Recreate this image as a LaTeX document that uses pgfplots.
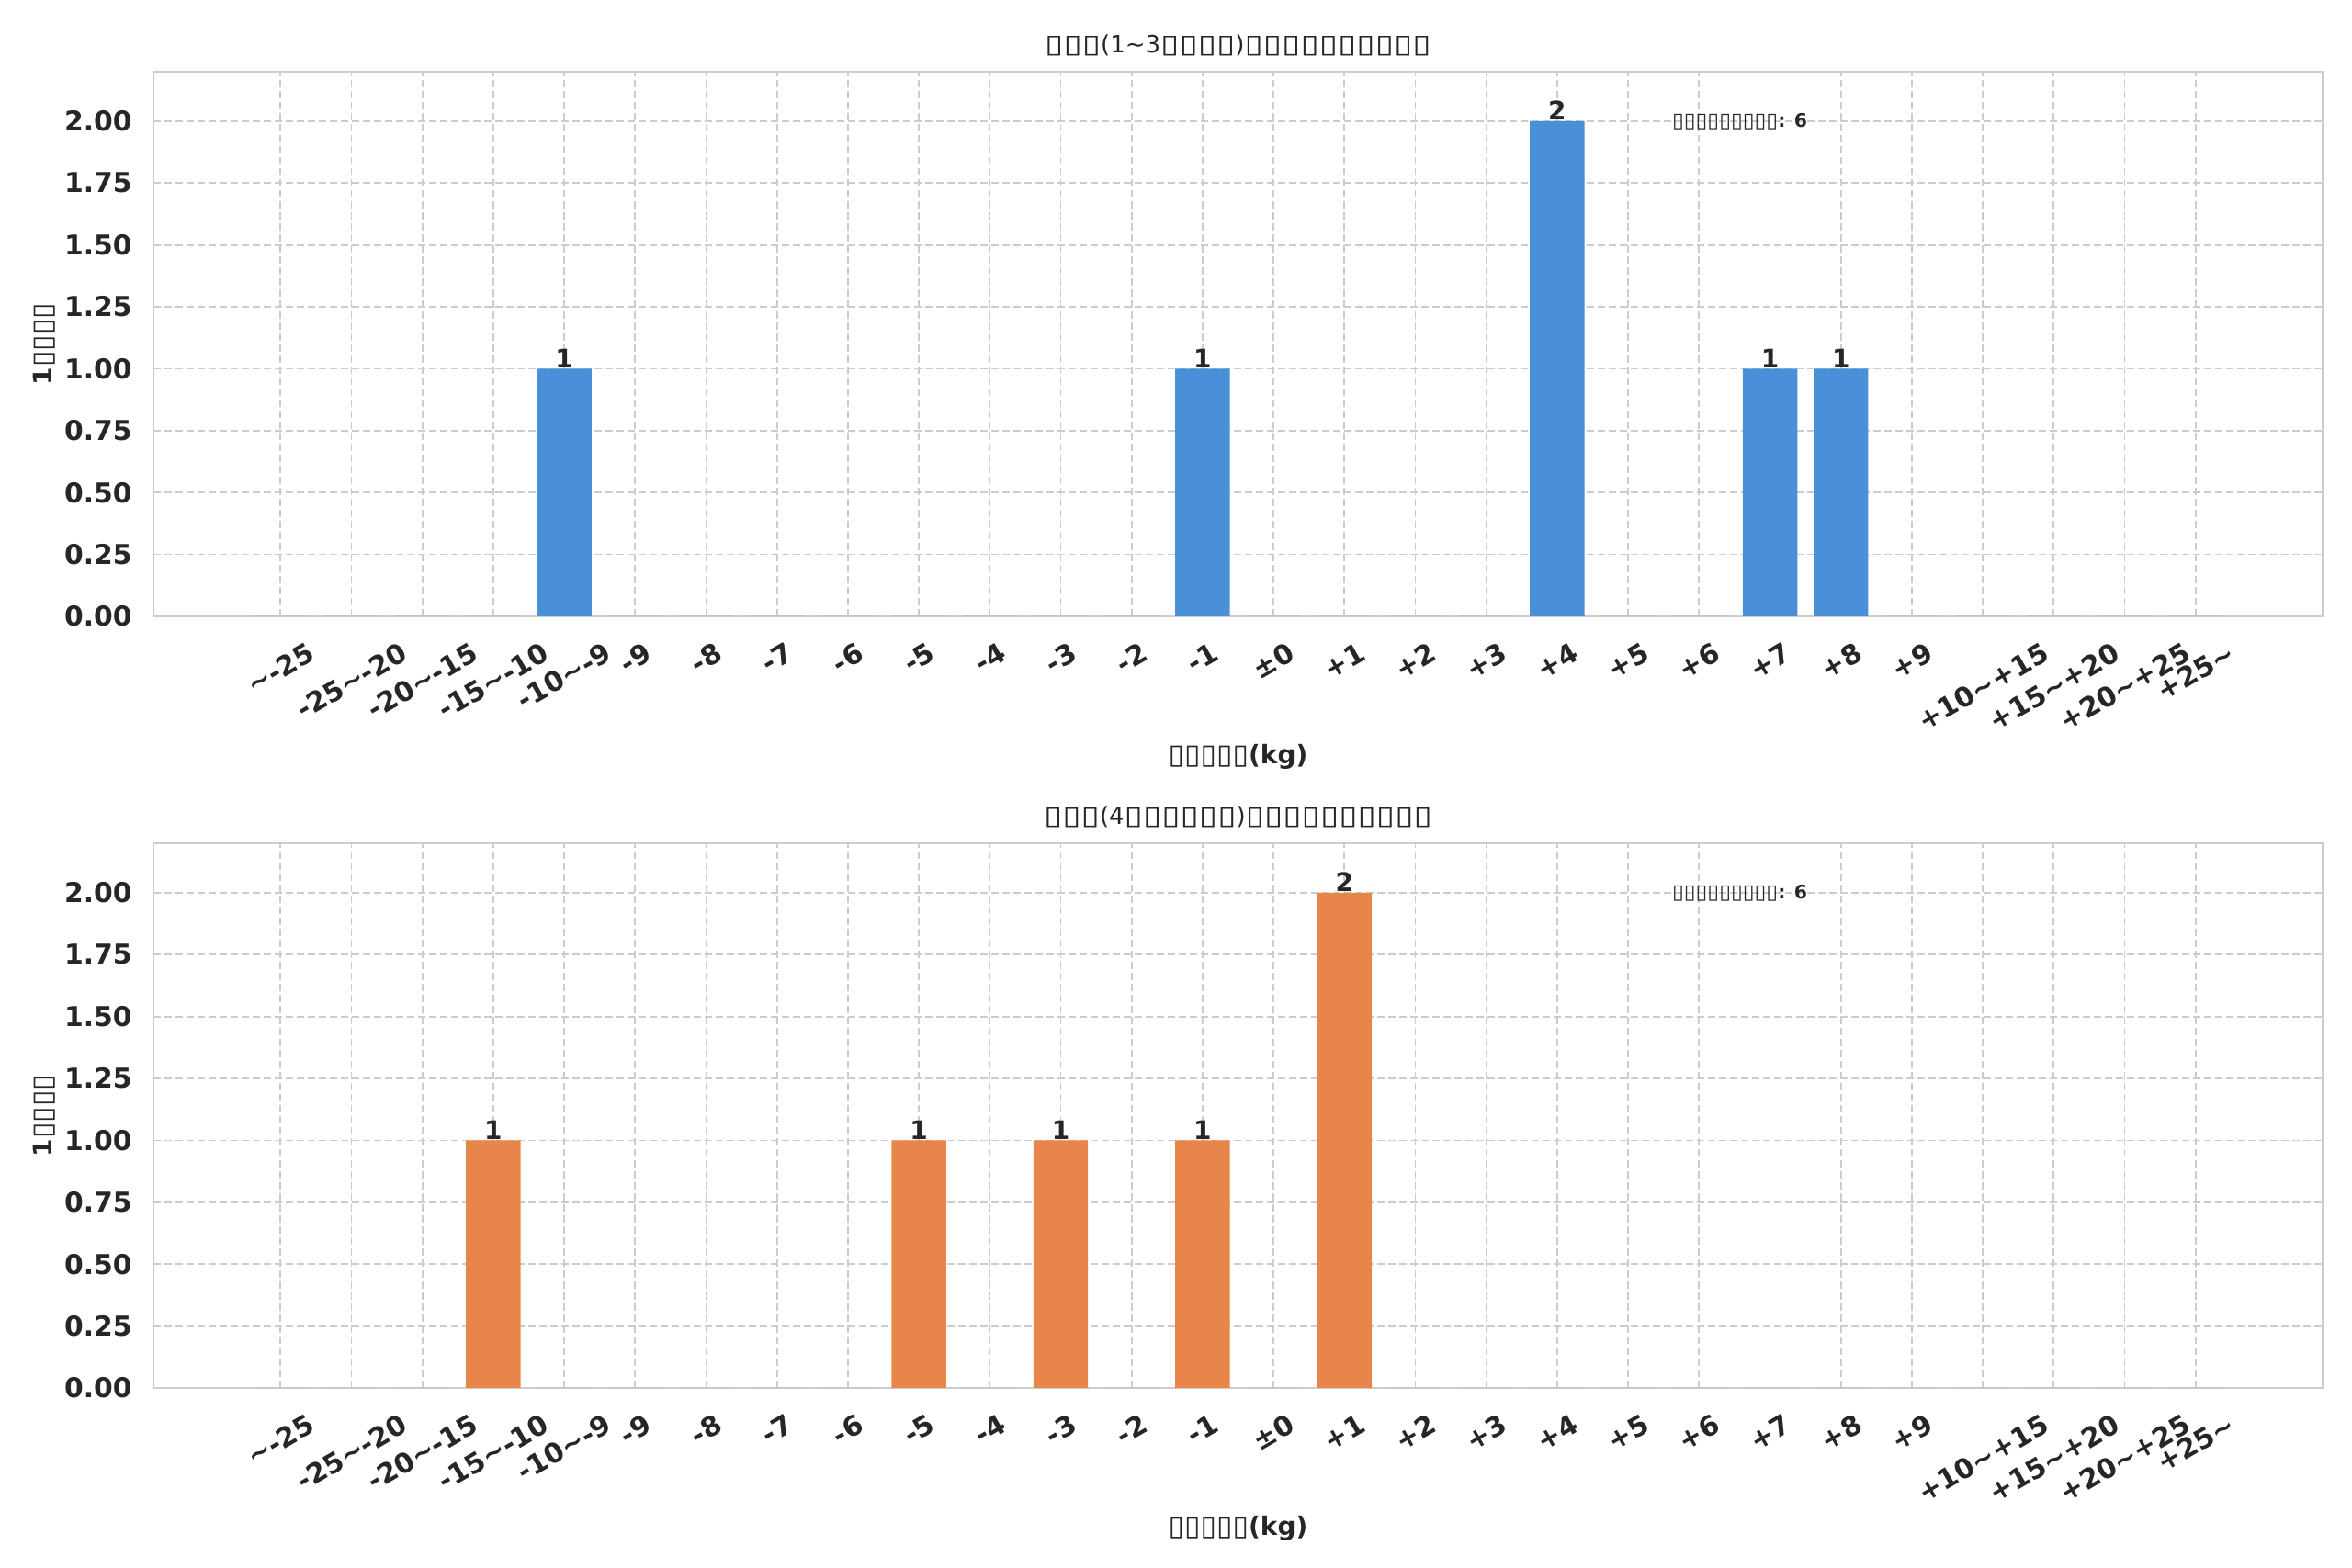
\documentclass[border=0pt]{standalone}
\usepackage{fontspec}
\setmainfont{DejaVu Sans}
\usepackage{graphicx}
\usepackage{pgfplots}
\pgfplotsset{compat=1.18}
\definecolor{txt}{HTML}{262626}
\definecolor{gridc}{HTML}{CCCCCC}
\definecolor{barblue}{HTML}{4A90D9}
\definecolor{barorange}{HTML}{E8854A}
\newcommand\T{\textasciitilde}
\newcommand\R[1]{\rotatebox{30}{#1}}
\newcommand\B{\scalebox{1.42}[1.08]{▯}}
\newcommand\Bb{\scalebox{1.14}[1.08]{▯}}
\pgfplotsset{
  panel/.style={
    width=1180.5pt, height=296.5pt, scale only axis,
    xmin=-1.79, xmax=28.79, ymin=0, ymax=2.2,
    ytick={0,0.25,0.5,0.75,1,1.25,1.5,1.75,2},
    xtick={0,...,27},
    xticklabels={\R{\T-25},\R{-25\T-20},\R{-20\T-15},\R{-15\T-10},\R{-10\T-9},\R{-9},\R{-8},\R{-7},\R{-6},\R{-5},\R{-4},\R{-3},\R{-2},\R{-1},\R{±0},\R{+1},\R{+2},\R{+3},\R{+4},\R{+5},\R{+6},\R{+7},\R{+8},\R{+9},\R{+10\T+15},\R{+15\T+20},\R{+20\T+25},\R{+25\T}},
    xmajorgrids, ymajorgrids,
    major grid style={draw=gridc, line width=0.9pt, dash pattern=on 4pt off 2pt},
    axis line style={draw=gridc, line width=1.1pt},
    major tick length=0pt,
    tick style={draw=none},
    ticklabel style={font=\fontsize{14.9}{17}\selectfont\bfseries, text=txt},
    yticklabel style={inner sep=0pt, anchor=east, xshift=-11.5pt,
      /pgf/number format/fixed, /pgf/number format/fixed zerofill,
      /pgf/number format/precision=2, /pgf/number format/assume math mode=true},
    xticklabel style={inner sep=0pt, anchor=north, yshift=-13.5pt},
    title style={font=\fontsize{13}{15}\selectfont, text=txt, at={(axis description cs:0.5,1.0135)}, anchor=base, inner sep=0pt},
    xlabel style={font=\fontsize{13.95}{16}\selectfont\bfseries, text=txt, at={(axis description cs:0.5,-0.270)}, anchor=base, inner sep=0pt},
    ylabel style={font=\fontsize{13.95}{16}\selectfont\bfseries, text=txt, at={(axis description cs:-0.0504,0.5)}, anchor=center, inner sep=0pt},
    ybar, bar width=0.77,
    nodes near coords={\pgfmathfloatifflags{\pgfplotspointmeta}{0}{}{\pgfmathprintnumber[fixed,precision=0,assume math mode=true]{\pgfplotspointmeta}}},
    every node near coord/.append style={font=\fontsize{13.95}{16}\selectfont\bfseries, text=txt, anchor=south, inner sep=0.5pt},
    xlabel={\Bb\Bb\Bb\Bb\Bb(kg)},
    ylabel={1\Bb\Bb\Bb\Bb},
  }
}
\begin{document}
\begin{tikzpicture}
\useasboundingbox (0,0) rectangle (1280pt,853.5pt);
\begin{axis}[panel, at={(83.5pt,518pt)}, anchor=south west,
  title={\B\B\B(1\T3\B\B\B\B)\B\B\B\B\B\B\B\B\B\B}]
\addplot[fill=barblue, draw=none] coordinates {
(0,0) (1,0) (2,0) (3,0) (4,1) (5,0) (6,0) (7,0) (8,0) (9,0) (10,0) (11,0) (12,0) (13,1)
(14,0) (15,0) (16,0) (17,0) (18,2) (19,0) (20,0) (21,1) (22,1) (23,0) (24,0) (25,0) (26,0) (27,0)};
\node[anchor=west, inner sep=0pt, font=\fontsize{10.2}{12}\selectfont\bfseries, text=txt] at (axis description cs:0.7,0.909) {\Bb\Bb\Bb\Bb\Bb\Bb\Bb\Bb\Bb: 6};
\end{axis}
\begin{axis}[panel, at={(83.5pt,98pt)}, anchor=south west,
  title={\B\B\B(4\B\B\B\B\B\B)\B\B\B\B\B\B\B\B\B\B}]
\addplot[fill=barorange, draw=none] coordinates {
(0,0) (1,0) (2,0) (3,1) (4,0) (5,0) (6,0) (7,0) (8,0) (9,1) (10,0) (11,1) (12,0) (13,1)
(14,0) (15,2) (16,0) (17,0) (18,0) (19,0) (20,0) (21,0) (22,0) (23,0) (24,0) (25,0) (26,0) (27,0)};
\node[anchor=west, inner sep=0pt, font=\fontsize{10.2}{12}\selectfont\bfseries, text=txt] at (axis description cs:0.7,0.909) {\Bb\Bb\Bb\Bb\Bb\Bb\Bb\Bb\Bb: 6};
\end{axis}
\end{tikzpicture}
\end{document}
